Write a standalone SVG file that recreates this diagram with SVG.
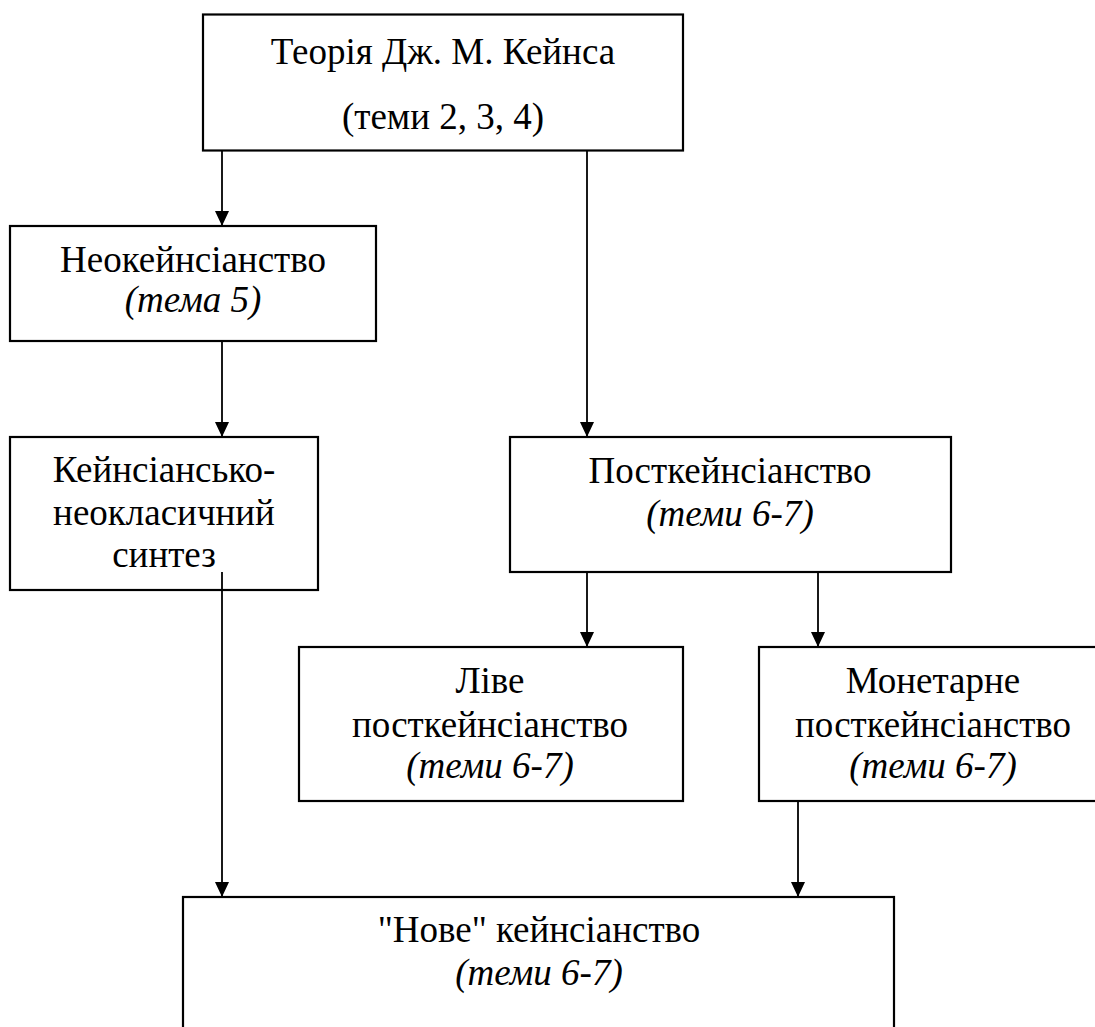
<svg xmlns="http://www.w3.org/2000/svg" width="1095" height="1027" viewBox="0 0 1095 1027">
<defs>
<style>
.box{fill:#fff;stroke:#000;stroke-width:2.2}
.t{font-family:"Liberation Serif","Times New Roman",serif;font-size:37px;fill:#000;text-anchor:middle}
.i{font-style:italic}
.c{stroke:#000;stroke-width:1.8;fill:none;marker-end:url(#ah)}
</style>
<marker id="ah" markerUnits="userSpaceOnUse" markerWidth="16" markerHeight="15" refX="15" refY="7" orient="auto" viewBox="0 0 16 15">
<path d="M0,0 L15,7 L0,14 Z" fill="#000"/>
</marker>
</defs>
<rect width="1095" height="1027" fill="#fff"/>
<g id="connectors">
<line class="c" x1="222" y1="151" x2="222" y2="226"/>
<line class="c" x1="222" y1="341" x2="222" y2="437"/>
<line class="c" x1="587" y1="151" x2="587" y2="437"/>
<line class="c" x1="587" y1="572" x2="587" y2="647"/>
<line class="c" x1="818" y1="572" x2="818" y2="647"/>
<line class="c" x1="798" y1="801" x2="798" y2="897"/>
</g>
<g id="n-keynes">
<rect class="box" x="203" y="14.5" width="480" height="136"/>
<text class="t" x="443" y="64">Теорія Дж. М. Кейнса</text>
<text class="t" x="443" y="129">(теми 2, 3, 4)</text>
</g>
<g id="n-neokeynes">
<rect class="box" x="10" y="226" width="366" height="115"/>
<text class="t" x="193" y="272">Неокейнсіанство</text>
<text class="t i" x="193" y="312">(тема 5)</text>
</g>
<g id="n-synthesis">
<rect class="box" x="10" y="437" width="308" height="153"/>
<text class="t" x="164" y="482">Кейнсіансько-</text>
<text class="t" x="164" y="525">неокласичний</text>
<text class="t" x="164" y="567">синтез</text>
</g>
<g id="n-postkeynes">
<rect class="box" x="510" y="437" width="441" height="135"/>
<text class="t" x="730" y="483">Посткейнсіанство</text>
<text class="t i" x="730" y="526">(теми 6-7)</text>
</g>
<g id="n-left">
<rect class="box" x="299" y="647" width="384" height="154"/>
<text class="t" x="490" y="693">Ліве</text>
<text class="t" x="490" y="737">посткейнсіанство</text>
<text class="t i" x="490" y="778">(теми 6-7)</text>
</g>
<g id="n-monetary">
<rect class="box" x="759" y="647" width="350" height="154"/>
<text class="t" x="933" y="693">Монетарне</text>
<text class="t" x="933" y="737">посткейнсіанство</text>
<text class="t i" x="933" y="778">(теми 6-7)</text>
</g>
<g id="n-new">
<rect class="box" x="183" y="897" width="711" height="160"/>
<text class="t" x="539" y="942">"Нове" кейнсіанство</text>
<text class="t i" x="539" y="985">(теми 6-7)</text>
</g>
<g id="connectors-over">
<line class="c" x1="222" y1="572" x2="222" y2="897"/>
</g>
</svg>
